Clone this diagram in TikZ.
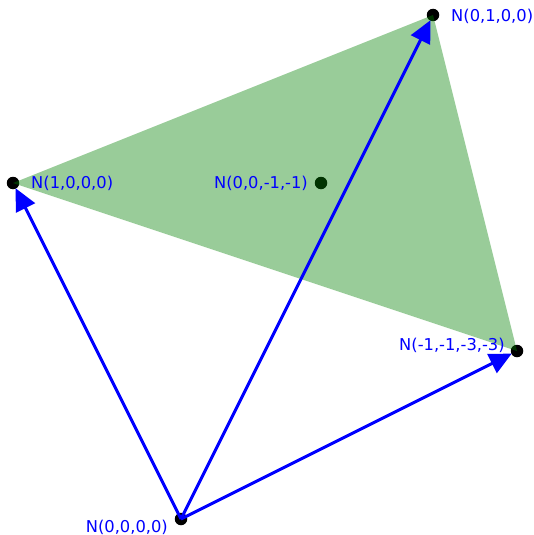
\documentclass[tikz,border=0pt]{standalone}
\usepackage{fontspec}
\setmainfont{DejaVu Sans}
\usetikzlibrary{arrows.meta}
\begin{document}
\begin{tikzpicture}[x=1pt,y=-1pt,
  pt/.style={circle,fill=black,inner sep=0pt,minimum size=12.5pt},
  lbl/.style={text=blue,font=\fontsize{16.3}{19}\selectfont,inner sep=0pt},
  vec/.style={blue,line width=3pt,-{Triangle[length=22pt,width=21pt]},shorten >=6pt}]
\useasboundingbox (0,0) rectangle (533,535);
\node[pt] (o) at (181,519) {};
\node[pt] (a) at (13,183) {};
\node[pt] (b) at (433,15) {};
\node[pt] (c) at (517,351) {};
\node[pt] (m) at (321,183) {};
\fill[green!50!black,opacity=0.4] (a.center) -- (b.center) -- (c.center) -- cycle;
\draw[vec] (o.center) -- (a.center);
\draw[vec] (o.center) -- (b.center);
\draw[vec] (o.center) -- (c.center);
\node[lbl,anchor=west] (la) at (31,183) {N(1,0,0,0)};
\node[lbl,anchor=west] (lb) at (451,16) {N(0,1,0,0)};
\node[lbl,anchor=east] (lm) at (308,183) {N(0,0,-1,-1)};
\node[lbl,anchor=west] (lc) at (399,345) {N(-1,-1,-3,-3)};
\node[lbl,anchor=east] (lo) at (168,527) {N(0,0,0,0)};
\end{tikzpicture}
\end{document}
